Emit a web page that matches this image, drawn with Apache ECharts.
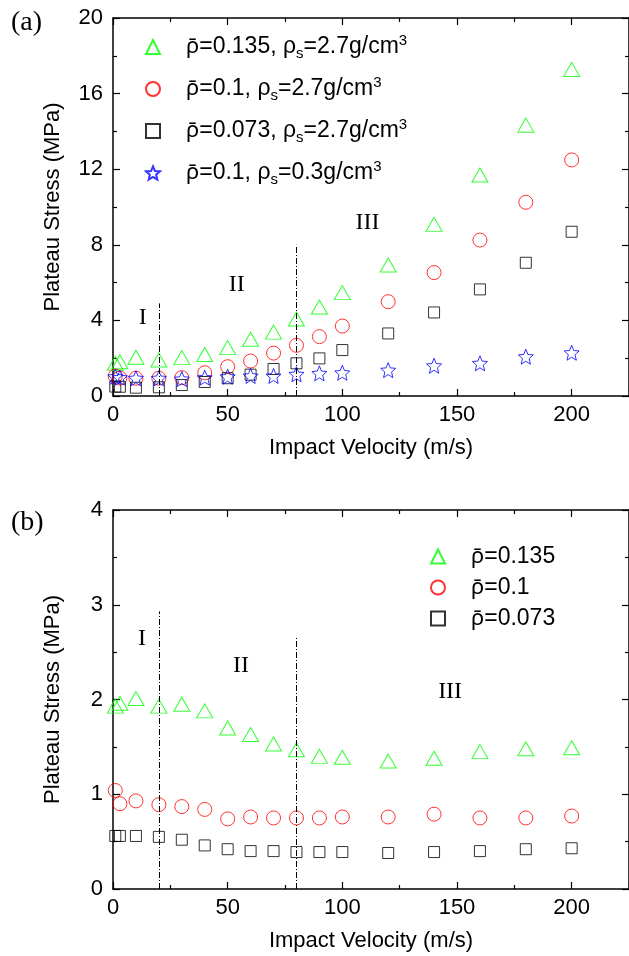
<!DOCTYPE html>
<html>
<head>
<meta charset="utf-8">
<script src="https://cdn.jsdelivr.net/npm/echarts@6/dist/echarts.min.js"></script>
<style>
  html, body { margin: 0; padding: 0; background: #fff; }
  #main { width: 629px; height: 956px; }
</style>
</head>
<body>
<div id="main"></div>
<script>
// impact velocities (m/s), shared by every series
const velocity = [1, 3, 10, 20, 30, 40, 50, 60, 70, 80, 90, 100, 120, 140, 160, 180, 200];

// (a) plateau stress, MPa
const stressA135 = [1.73, 1.81, 2.05, 1.90, 2.03, 2.20, 2.56, 3.00, 3.38, 4.07, 4.71, 5.47, 6.93, 9.08, 11.69, 14.33, 17.28];
const stressA10 = [1.05, 0.95, 0.94, 0.94, 0.97, 1.23, 1.55, 1.85, 2.27, 2.68, 3.14, 3.70, 4.99, 6.53, 8.25, 10.25, 12.49];
const stressA073 = [0.50, 0.49, 0.44, 0.46, 0.58, 0.74, 0.94, 1.13, 1.43, 1.73, 1.99, 2.43, 3.31, 4.42, 5.64, 7.05, 8.69];
const stressA10low = [1.02, 0.97, 0.94, 0.94, 0.90, 0.97, 1.02, 1.06, 1.06, 1.15, 1.20, 1.23, 1.37, 1.60, 1.73, 2.08, 2.29];

// (b) normalised plateau stress
const stressB135 = [1.93, 1.96, 2.01, 1.93, 1.95, 1.88, 1.70, 1.63, 1.53, 1.47, 1.40, 1.39, 1.35, 1.38, 1.45, 1.48, 1.49];
const stressB10 = [1.04, 0.90, 0.93, 0.89, 0.87, 0.84, 0.74, 0.76, 0.75, 0.75, 0.75, 0.76, 0.76, 0.79, 0.75, 0.75, 0.77];
const stressB073 = [0.56, 0.56, 0.56, 0.55, 0.52, 0.46, 0.42, 0.40, 0.40, 0.39, 0.39, 0.39, 0.38, 0.39, 0.40, 0.42, 0.43];

// legend text pieces
const relDensityA = ['0.135', '0.1', '0.073', '0.1'];
const solidDensityA = ['2.7', '2.7', '2.7', '0.3'];
const relDensityB = ['0.135', '0.1', '0.073'];

// regime boundaries: [velocity, top of the line]
const boundsA = [[20, 4.9], [80, 8]];
const boundsB = [[20, 2.93], [80, 2.66]];
// regime labels: [name, velocity, stress]
const regimesA = [['I', 13, 4.13], ['II', 54, 5.87], ['III', 111, 9.15]];
const regimesB = [['I', 12.6, 2.64], ['II', 55.8, 2.36], ['III', 147, 2.08]];

const SANS = 'Liberation Sans';
const SERIF = 'Liberation Serif';
const STAR = 'path://M50,0L63.2,31.8L97.6,34.5L71.4,56.9L79.4,90.5L50,72.5L20.6,90.5L28.6,56.9L2.4,34.5L36.8,31.8Z';

const colors = ['#00ff00', '#ff0000', '#000000', '#0000ff'];
const symbols = ['triangle', 'circle', 'rect', STAR];
const sizes = [[16, 14], 14, 11, 15];

function pts(ys) {
  return velocity.map((v, i) => [v, ys[i]]);
}

function xAx(grid, top) {
  return {
    type: 'value', gridIndex: grid, position: top ? 'top' : 'bottom',
    min: 0, max: 225, interval: 50,
    axisLine: { onZero: false, lineStyle: { color: '#000', width: 1.5 } },
    axisTick: { inside: true, length: 7, lineStyle: { color: '#000', width: 1.2 } },
    minorTick: { show: true, splitNumber: 2, length: 4, lineStyle: { color: '#000', width: 1.2 } },
    splitLine: { show: false },
    axisLabel: { show: !top, showMaxLabel: false, color: '#000', fontSize: 22, fontFamily: SANS, margin: 8 },
    name: top ? '' : 'Impact Velocity (m/s)',
    nameLocation: 'middle', nameGap: 41,
    nameTextStyle: { color: '#000', fontSize: 22, fontFamily: SANS }
  };
}

function yAx(grid, right, max, step) {
  return {
    type: 'value', gridIndex: grid, position: right ? 'right' : 'left',
    min: 0, max: max, interval: step,
    axisLine: { onZero: false, lineStyle: { color: '#000', width: 1.5 } },
    axisTick: { inside: true, length: 7, lineStyle: { color: '#000', width: 1.2 } },
    minorTick: { show: true, splitNumber: 2, length: 4, lineStyle: { color: '#000', width: 1.2 } },
    splitLine: { show: false },
    axisLabel: { show: !right, color: '#000', fontSize: 22, fontFamily: SANS, margin: 10 },
    name: right ? '' : 'Plateau Stress (MPa)',
    nameLocation: 'middle', nameGap: 49,
    nameTextStyle: { color: '#000', fontSize: 22, fontFamily: SANS }
  };
}

function scatter(name, k, ys, grid) {
  return {
    name: name, type: 'scatter',
    xAxisIndex: grid * 2, yAxisIndex: grid * 2,
    symbol: symbols[k], symbolSize: sizes[k],
    itemStyle: { color: 'rgba(0,0,0,0)', borderColor: colors[k], borderWidth: 1 },
    emphasis: { disabled: true },
    data: pts(ys)
  };
}

function bounds(list) {
  return {
    silent: true, symbol: ['none', 'none'],
    label: { show: false },
    lineStyle: { color: '#000', width: 1, type: [6, 2, 1, 2] },
    data: list.map(b => [{ coord: [b[0], 0] }, { coord: [b[0], b[1]] }])
  };
}

function regimes(list) {
  return {
    silent: true, symbol: 'circle', symbolSize: 0,
    label: { show: true, position: 'inside', formatter: '{b}', color: '#000', fontSize: 24, fontFamily: SERIF },
    data: list.map(r => ({ name: r[0], coord: [r[1], r[2]] }))
  };
}

// rho with a bar: Noto Sans places the combining macron properly
const rich = {
  n: { fontSize: 22, lineHeight: 28, fontFamily: 'Noto Sans', color: '#000' },
  r: { fontSize: 23, lineHeight: 28, fontFamily: SANS, color: '#000' },
  s: { fontSize: 15, lineHeight: 8, fontFamily: SANS, color: '#000', verticalAlign: 'bottom' },
  p: { fontSize: 15, lineHeight: 14, fontFamily: SANS, color: '#000', verticalAlign: 'top' }
};

const namesA = relDensityA.map((d, i) => 'a' + i);
const namesB = relDensityB.map((d, i) => 'b' + i);

const seriesA = [
  scatter(namesA[0], 0, stressA135, 0),
  scatter(namesA[1], 1, stressA10, 0),
  scatter(namesA[2], 2, stressA073, 0),
  scatter(namesA[3], 3, stressA10low, 0)
];
seriesA[0].markLine = bounds(boundsA);
seriesA[0].markPoint = regimes(regimesA);

const seriesB = [
  scatter(namesB[0], 0, stressB135, 1),
  scatter(namesB[1], 1, stressB10, 1),
  scatter(namesB[2], 2, stressB073, 1)
];
seriesB[0].markLine = bounds(boundsB);
seriesB[0].markPoint = regimes(regimesB);

var myChart = echarts.init(document.getElementById('main'));
myChart.setOption({
  animation: false,
  backgroundColor: '#fff',
  title: [
    { text: '(a)', left: 6, top: 4, textStyle: { fontFamily: SERIF, fontSize: 28, fontWeight: 'normal', color: '#000' } },
    { text: '(b)', left: 6, top: 504, textStyle: { fontFamily: SERIF, fontSize: 28, fontWeight: 'normal', color: '#000' } }
  ],
  grid: [
    { left: 113, top: 18, right: -3, height: 378 },
    { left: 113, top: 510, right: -3, height: 379 }
  ],
  xAxis: [xAx(0, false), xAx(0, true), xAx(1, false), xAx(1, true)],
  yAxis: [yAx(0, false, 20, 4), yAx(0, true, 20, 4), yAx(1, false, 4, 1), yAx(1, true, 4, 1)],
  legend: [
    {
      data: namesA, orient: 'vertical', left: 140, top: 28,
      itemWidth: 14, itemHeight: 14, itemGap: 14, selectedMode: false,
      formatter: function (name) {
        const i = +name.slice(1);
        return '{n|ρ\u0304}{r|=' + relDensityA[i] + ', ρ}{s|s}{r|=' + solidDensityA[i] + 'g/cm}{p|3}';
      },
      textStyle: { padding: [0, 0, 0, 21], rich: rich }
    },
    {
      data: namesB, orient: 'vertical', left: 425, top: 540,
      itemWidth: 14, itemHeight: 14, itemGap: 8, selectedMode: false,
      formatter: function (name) {
        const i = +name.slice(1);
        return '{n|ρ\u0304}{r|=' + relDensityB[i] + '}';
      },
      textStyle: { padding: [0, 0, 0, 21], rich: rich }
    }
  ],
  series: seriesA.concat(seriesB)
});
</script>
</body>
</html>
